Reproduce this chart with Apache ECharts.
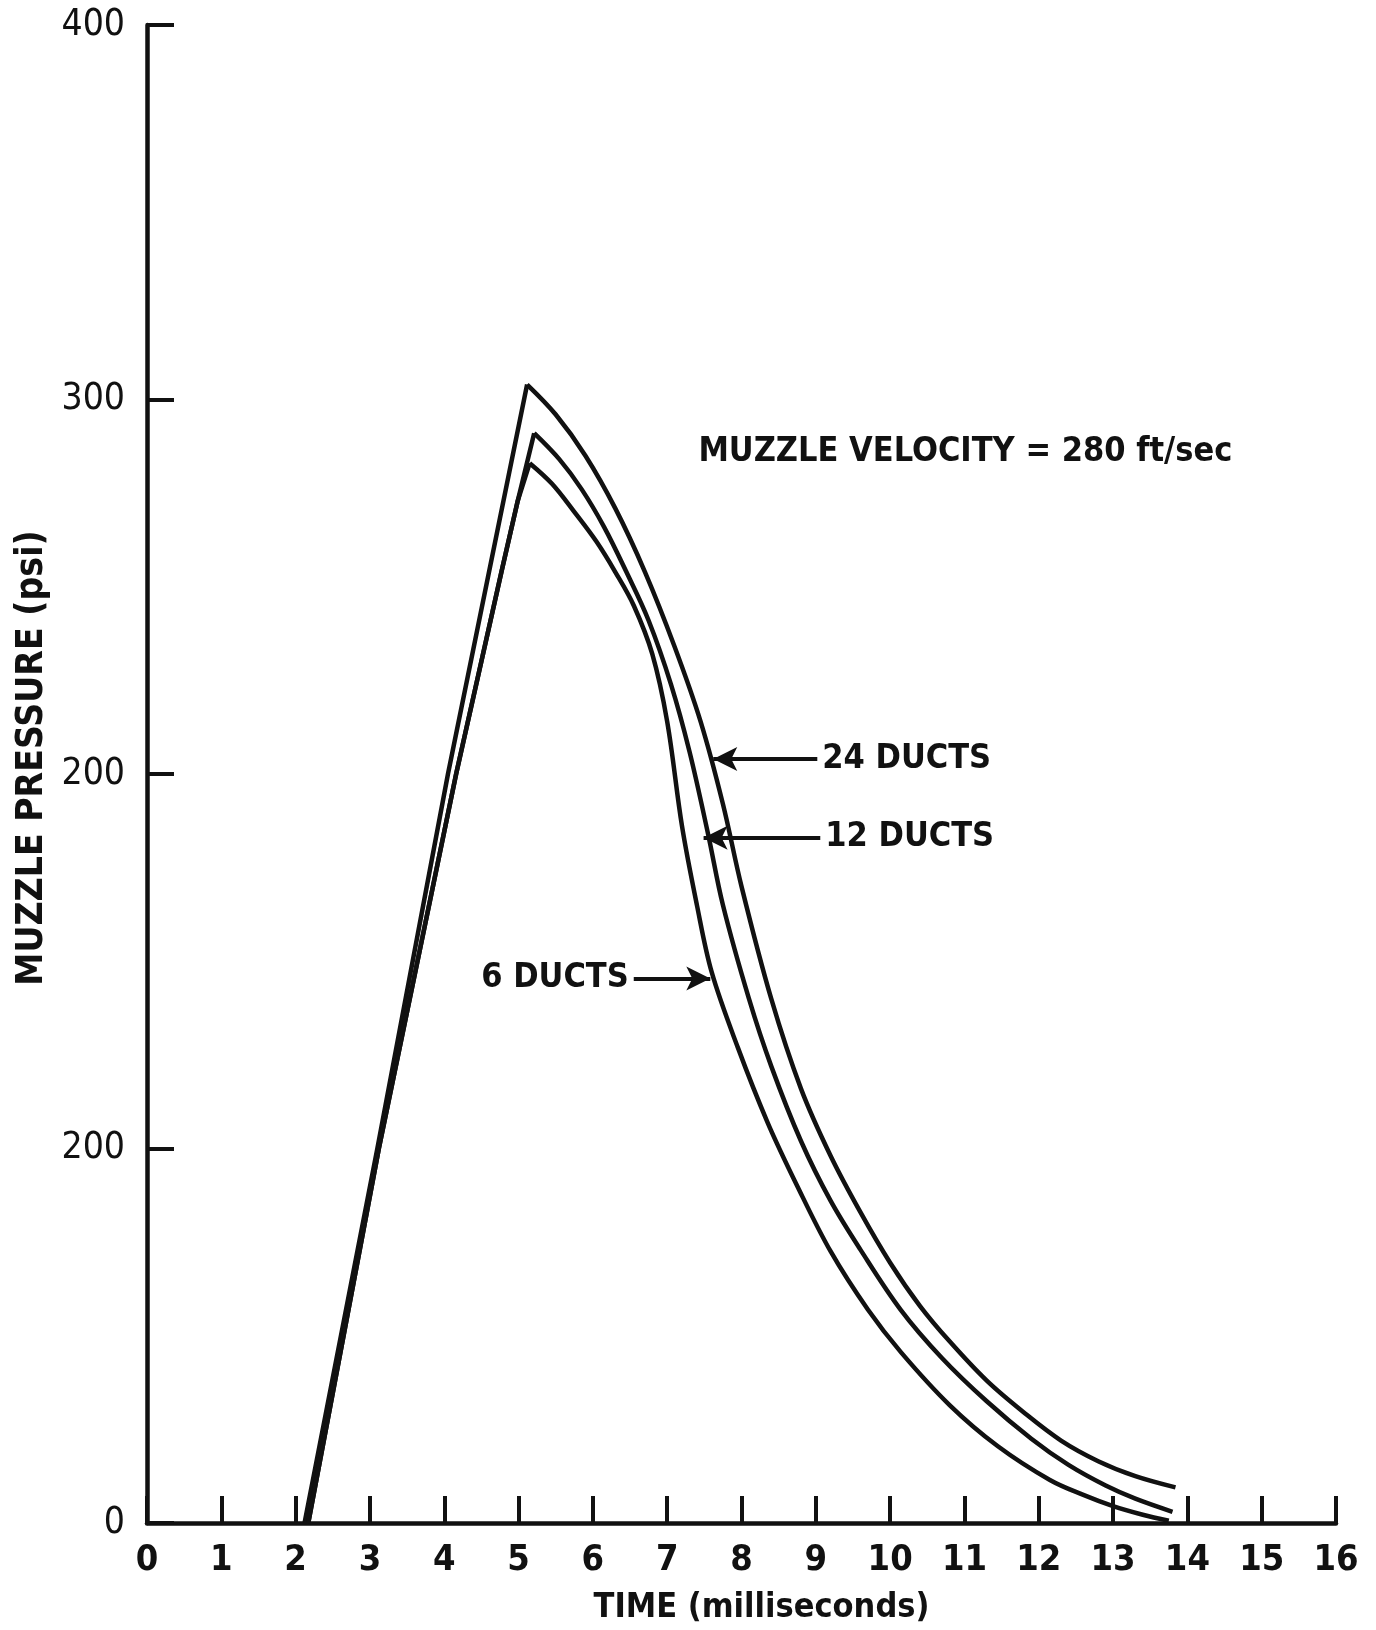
<!DOCTYPE html>
<html>
<head>
<meta charset="utf-8">
<script src="https://cdn.jsdelivr.net/npm/echarts@6/dist/echarts.min.js"></script>
<style>
  html, body { margin: 0; padding: 0; background: #fff; }
  #chart { width: 1376px; height: 1630px; }
</style>
</head>
<body>
<div id="chart"></div>
<script>
// tick labels as printed on the original (the second "200" really is printed that way)
const xTickLabels = ['0','1','2','3','4','5','6','7','8','9','10','11','12','13','14','15','16'];
const yTickLabels = ['0','200','200','300','400'];

// [time ms, pressure psi], rising part then decay part
const rise24 = [[2.12,0],[3.1,100],[4.05,200],[5.115,304]];
const fall24 = [[5.115,304],[5.5,296],[5.9,285],[6.3,271],[6.7,254],[7.1,234],[7.45,214],[7.75,192],
  [8.0,170],[8.4,140],[8.8,116],[9.2,98],[9.6,83],[10.0,69.5],[10.4,58],[10.8,48.5],[11.3,38],
  [11.8,29.5],[12.3,22],[12.8,16.5],[13.3,12.5],[13.84,9.5]];

const rise12 = [[2.17,0],[3.12,100],[4.16,200],[4.77,254],[4.99,273],[5.21,291]];
const fall12 = [[5.21,291],[5.55,284],[5.85,276],[6.15,266],[6.45,254],[6.75,241],[7.05,224],[7.3,206],
  [7.55,184],[7.75,165],[8.1,140],[8.4,122],[8.8,102],[9.2,86],[9.6,73],[10.14,57],[10.7,44],
  [11.3,32.5],[11.9,22.5],[12.4,15.5],[12.9,10],[13.3,6.5],[13.8,3]];

const rise6 = [[2.17,0],[3.12,100],[4.16,200],[4.77,254],[4.99,273],[5.15,283]];
const fall6 = [[5.15,283],[5.45,277.5],[5.75,270],[6.05,262],[6.3,254],[6.55,245],[6.8,232],[7.0,214],
  [7.2,186],[7.4,165],[7.6,147],[7.95,127],[8.35,107],[8.75,90],[9.2,72.5],[9.7,57],[10.15,45.5],
  [10.8,31.5],[11.45,20.5],[12.15,11.5],[12.6,7.5],[13.0,4.5],[13.4,2.2],[13.75,0.6]];

// labels with their arrows: text, arrow tail, arrow head, all in data units
const ductLabels = [
  { text: '24 DUCTS', tail: [9.02, 204], head: [7.62, 204], side: 'right' },
  { text: '12 DUCTS', tail: [9.06, 183], head: [7.49, 183], side: 'right' },
  { text: '6 DUCTS',  tail: [6.55, 145.4], head: [7.58, 145.4], side: 'left' }
];
const velocityNote = { text: 'MUZZLE VELOCITY = 280 ft/sec', at: [7.42, 286] };

const ink = '#111';
const font = '"DejaVu Sans Condensed", "DejaVu Sans", sans-serif';

const chart = echarts.init(document.getElementById('chart'));

function curve(data, smooth) {
  return {
    type: 'line',
    data: data,
    smooth: smooth,
    symbol: 'none',
    silent: true,
    lineStyle: { color: ink, width: 4.5 },
    z: 3
  };
}

const arrows = {
  type: 'line',
  data: [],
  silent: true,
  markLine: {
    silent: true,
    symbol: ['none', 'arrow'],
    symbolSize: [18, 24],
    label: { show: false },
    lineStyle: { color: ink, width: 4, type: 'solid' },
    data: ductLabels.map(d => [
      { coord: d.tail, symbol: 'none' },
      { coord: d.head, symbol: 'arrow' }
    ])
  }
};

chart.setOption({
  animation: false,
  backgroundColor: '#fff',
  grid: { left: 147, right: 40, top: 25, bottom: 106 },
  xAxis: {
    type: 'value',
    min: 0,
    max: 16,
    interval: 1,
    name: 'TIME (milliseconds)',
    nameLocation: 'middle',
    nameGap: 68,
    nameTextStyle: { color: ink, fontFamily: font, fontWeight: 'bold', fontSize: 34, padding: [0, 0, 0, 40] },
    axisLine: { show: true, lineStyle: { color: ink, width: 4.5 } },
    axisTick: { show: true, inside: true, length: 27, lineStyle: { color: ink, width: 4 } },
    axisLabel: {
      color: ink, fontFamily: font, fontWeight: 'bold', fontSize: 36, margin: 20,
      formatter: v => xTickLabels[v]
    },
    splitLine: { show: false }
  },
  yAxis: {
    type: 'value',
    min: 0,
    max: 400,
    interval: 100,
    name: 'MUZZLE PRESSURE (psi)',
    nameLocation: 'middle',
    nameGap: 96,
    nameTextStyle: { color: ink, fontFamily: font, fontWeight: 'bold', fontSize: 37, padding: [0, 0, 0, 32] },
    axisLine: { show: true, lineStyle: { color: ink, width: 4.5 } },
    axisTick: { show: true, inside: true, length: 27, lineStyle: { color: ink, width: 4 } },
    axisLabel: {
      color: ink, fontFamily: font, fontSize: 37, margin: 22,
      formatter: v => yTickLabels[v / 100]
    },
    splitLine: { show: false }
  },
  series: [
    curve(rise24, false), curve(fall24, 0.35),
    curve(rise12, false), curve(fall12, 0.35),
    curve(rise6, false), curve(fall6, 0.35),
    arrows
  ]
});

// place the text notes next to their arrows
const textStyle = { fill: ink, font: 'bold 34px ' + font };
const graphics = ductLabels.map(d => {
  const p = chart.convertToPixel({ gridIndex: 0 }, d.tail);
  return {
    type: 'text',
    x: d.side === 'right' ? p[0] + 5 : p[0] - 5,
    y: p[1],
    style: Object.assign({ text: d.text, textAlign: d.side === 'right' ? 'left' : 'right', textVerticalAlign: 'middle' }, textStyle)
  };
});
const vp = chart.convertToPixel({ gridIndex: 0 }, velocityNote.at);
graphics.push({
  type: 'text',
  x: vp[0],
  y: vp[1],
  style: Object.assign({ text: velocityNote.text, textAlign: 'left', textVerticalAlign: 'middle' }, textStyle)
});
chart.setOption({ graphic: graphics });
</script>
</body>
</html>
